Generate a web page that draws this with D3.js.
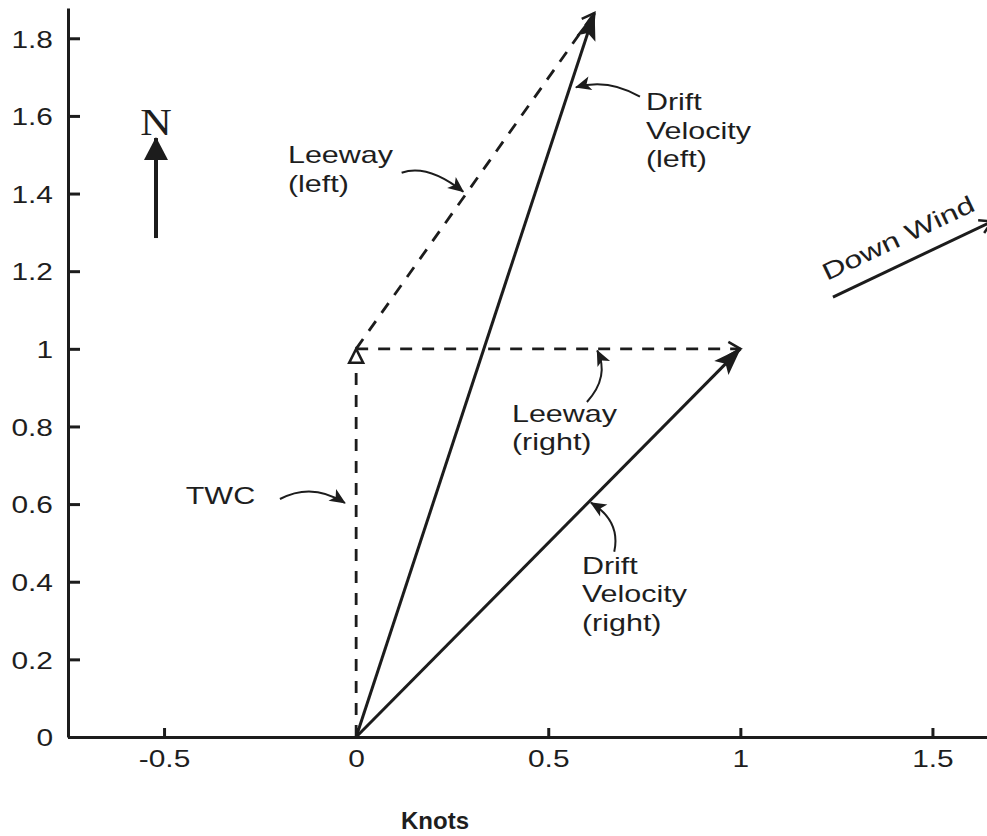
<!DOCTYPE html>
<html>
<head>
<meta charset="utf-8">
<script src="https://cdn.jsdelivr.net/npm/d3@7"></script>
<style>
  body { margin: 0; background: #fff; }
  text { font-family: "Liberation Sans", Arial, sans-serif; fill: #1e1e1e; }
</style>
</head>
<body>
<script>
// tick values
var xTicks = [-0.5, 0, 0.5, 1, 1.5];
var yTicks = [0, 0.2, 0.4, 0.6, 0.8, 1, 1.2, 1.4, 1.6, 1.8];

// vector components in knots [east, north]
var twc = [0, 1];
var leewayLeft = [0.62, 0.865];
var leewayRight = [1.0, 0];

// down wind direction line and north arrow, in knots
var downWind = [[1.241, 1.1334], [1.655, 1.328]];
var northArrow = [[-0.521, 1.2854], [-0.521, 1.543]];

// callout labels: text anchor and curved pointer (start, control, end)
var notes = [
  { lines: ["Leeway", "(left)"], at: [-0.1775, 1.4778],
    curve: [[0.1184, 1.4536], [0.1856, 1.4773], [0.2788, 1.4047]] },
  { lines: ["Drift", "Velocity", "(left)"], at: [0.7543, 1.6151],
    curve: [[0.7387, 1.6494], [0.6554, 1.6975], [0.5721, 1.6736]] },
  { lines: ["Leeway", "(right)"], at: [0.4055, 0.8122],
    curve: [[0.6007, 0.8630], [0.6605, 0.9286], [0.6275, 0.9956]] },
  { lines: ["TWC"], at: [-0.4435, 0.6002],
    curve: [[-0.1983, 0.6131], [-0.1145, 0.6569], [-0.0292, 0.6028]] },
  { lines: ["Drift", "Velocity", "(right)"], at: [0.5877, 0.4199],
    curve: [[0.6718, 0.4773], [0.6892, 0.5564], [0.6111, 0.6036]] }
];

var width = 987, height = 836;
var ink = "#1c1c1c";

var drLeft = [twc[0] + leewayLeft[0], twc[1] + leewayLeft[1]];
var drRight = [twc[0] + leewayRight[0], twc[1] + leewayRight[1]];

var vectors = [
  { from: [0, 0], to: twc, dashed: true, head: "tri" },
  { from: twc, to: drLeft, dashed: true, head: "chev" },
  { from: twc, to: drRight, dashed: true, head: "chev" },
  { from: [0, 0], to: drLeft, dashed: false, head: "big" },
  { from: [0, 0], to: drRight, dashed: false, head: "big" }
];

var x = d3.scaleLinear().domain([-0.75, 1.642]).range([68, 987]);
var y = d3.scaleLinear().domain([0, 1.878]).range([737, 8]);

var svg = d3.select("body").append("svg")
    .attr("width", width)
    .attr("height", height);

// markers
var defs = svg.append("defs");
defs.append("marker").attr("id", "big")
    .attr("markerUnits", "userSpaceOnUse")
    .attr("viewBox", "-30 -12 32 24")
    .attr("markerWidth", 32).attr("markerHeight", 24)
    .attr("refX", 0).attr("refY", 0).attr("orient", "auto")
  .append("path")
    .attr("d", "M1,0 L-27,-10 L-21,0 L-27,10 Z")
    .attr("fill", ink);
defs.append("marker").attr("id", "chev")
    .attr("markerUnits", "userSpaceOnUse")
    .attr("viewBox", "-16 -10 20 20")
    .attr("markerWidth", 20).attr("markerHeight", 20)
    .attr("refX", 0).attr("refY", 0).attr("orient", "auto")
  .append("path")
    .attr("d", "M-12,-7 L0,0 L-12,7")
    .attr("fill", "none").attr("stroke", ink).attr("stroke-width", 2.5);
defs.append("marker").attr("id", "tri")
    .attr("markerUnits", "userSpaceOnUse")
    .attr("viewBox", "-20 -10 24 20")
    .attr("markerWidth", 24).attr("markerHeight", 20)
    .attr("refX", 0).attr("refY", 0).attr("orient", "auto")
  .append("path")
    .attr("d", "M0,0 L-14,-7 L-14,7 Z")
    .attr("fill", "#fff").attr("stroke", ink).attr("stroke-width", 2.5);
defs.append("marker").attr("id", "small")
    .attr("markerUnits", "userSpaceOnUse")
    .attr("viewBox", "-18 -9 20 18")
    .attr("markerWidth", 20).attr("markerHeight", 18)
    .attr("refX", 0).attr("refY", 0).attr("orient", "auto")
  .append("path")
    .attr("d", "M1,0 L-15,-7 L-11,0 L-15,7 Z")
    .attr("fill", ink);
defs.append("marker").attr("id", "north")
    .attr("markerUnits", "userSpaceOnUse")
    .attr("viewBox", "-24 -14 26 28")
    .attr("markerWidth", 26).attr("markerHeight", 28)
    .attr("refX", 0).attr("refY", 0).attr("orient", "auto")
  .append("path")
    .attr("d", "M1,0 L-22,-12 L-22,12 Z")
    .attr("fill", ink);

// axes
function stretchLabels(g, sx) {
  g.selectAll(".tick text").each(function () {
    var t = d3.select(this);
    var tx = +t.attr("x") || 0, ty = +t.attr("y") || 0;
    t.attr("x", 0).attr("y", 0)
     .attr("transform", "translate(" + tx + "," + ty + ") scale(" + sx + ",1)");
  });
}

var gx = svg.append("g")
    .attr("transform", "translate(0," + y(0) + ")")
    .call(d3.axisBottom(x).tickValues(xTicks)
        .tickFormat(function (d) { return String(d); })
        .tickSize(-9).tickSizeOuter(0).tickPadding(14));
var gy = svg.append("g")
    .attr("transform", "translate(" + x.range()[0] + ",0)")
    .call(d3.axisLeft(y).tickValues(yTicks)
        .tickFormat(function (d) { return String(d); })
        .tickSize(-12).tickSizeOuter(0).tickPadding(15));

[gx, gy].forEach(function (g) {
  g.select(".domain").attr("stroke", ink).attr("stroke-width", 3);
  g.selectAll(".tick line").attr("stroke", ink).attr("stroke-width", 3);
  g.selectAll(".tick text")
    .style("font-family", "'Liberation Sans', Arial, sans-serif")
    .style("font-size", "23px").attr("fill", "#1e1e1e");
});
gy.selectAll(".tick text").attr("dy", "0.38em");
stretchLabels(gx, 1.3);
stretchLabels(gy, 1.3);

svg.append("text")
    .attr("x", 435).attr("y", 829)
    .attr("text-anchor", "middle")
    .style("font-size", "24px").style("font-weight", "bold")
    .text("Knots");

// vectors
var line = d3.line().x(function (d) { return x(d[0]); }).y(function (d) { return y(d[1]); });

svg.append("g").selectAll("path")
    .data(vectors.slice().sort(function (a, b) { return b.dashed - a.dashed; }))
    .enter().append("path")
    .attr("d", function (d) { return line([d.from, d.to]); })
    .attr("fill", "none")
    .attr("stroke", ink)
    .attr("stroke-width", function (d) { return d.dashed ? 2.8 : 3; })
    .attr("stroke-dasharray", function (d) { return d.dashed ? "12,10" : null; })
    .attr("marker-end", function (d) { return "url(#" + d.head + ")"; });

// callouts
var curve = function (p) {
  return "M" + x(p[0][0]) + "," + y(p[0][1]) +
         " Q" + x(p[1][0]) + "," + y(p[1][1]) +
         " " + x(p[2][0]) + "," + y(p[2][1]);
};

var ng = svg.append("g").selectAll("g").data(notes).enter().append("g");
ng.append("path")
    .attr("d", function (d) { return curve(d.curve); })
    .attr("fill", "none").attr("stroke", ink).attr("stroke-width", 2)
    .attr("marker-end", "url(#small)");
ng.append("text")
    .attr("transform", function (d) {
      return "translate(" + x(d.at[0]) + "," + y(d.at[1]) + ") scale(1.27,1)";
    })
    .style("font-size", "24px")
    .selectAll("tspan").data(function (d) { return d.lines; })
    .enter().append("tspan")
    .attr("x", 0)
    .attr("dy", function (d, i) { return i ? 28.5 : 0; })
    .text(function (d) { return d; });

// north arrow
svg.append("path")
    .attr("d", line(northArrow))
    .attr("stroke", ink).attr("stroke-width", 4)
    .attr("marker-end", "url(#north)");
svg.append("text")
    .attr("transform", "translate(" + x(northArrow[1][0]) + "," + (y(northArrow[1][1]) - 3) + ") scale(1.15,1)")
    .attr("text-anchor", "middle")
    .style("font-family", "'Liberation Serif', 'DejaVu Serif', serif")
    .style("font-size", "38px")
    .text("N");

// down wind
svg.append("path")
    .attr("d", line(downWind))
    .attr("stroke", ink).attr("stroke-width", 3)
    .attr("marker-end", "url(#chev)");
var ang = Math.atan2(y(downWind[1][1]) - y(downWind[0][1]), x(downWind[1][0]) - x(downWind[0][0])) * 180 / Math.PI;
svg.append("text")
    .attr("transform", "translate(" + (x(downWind[0][0]) - 6) + "," + (y(downWind[0][1]) - 16) + ") rotate(" + ang + ") scale(1.35,1)")
    .style("font-size", "24px")
    .text("Down Wind");
</script>
</body>
</html>
